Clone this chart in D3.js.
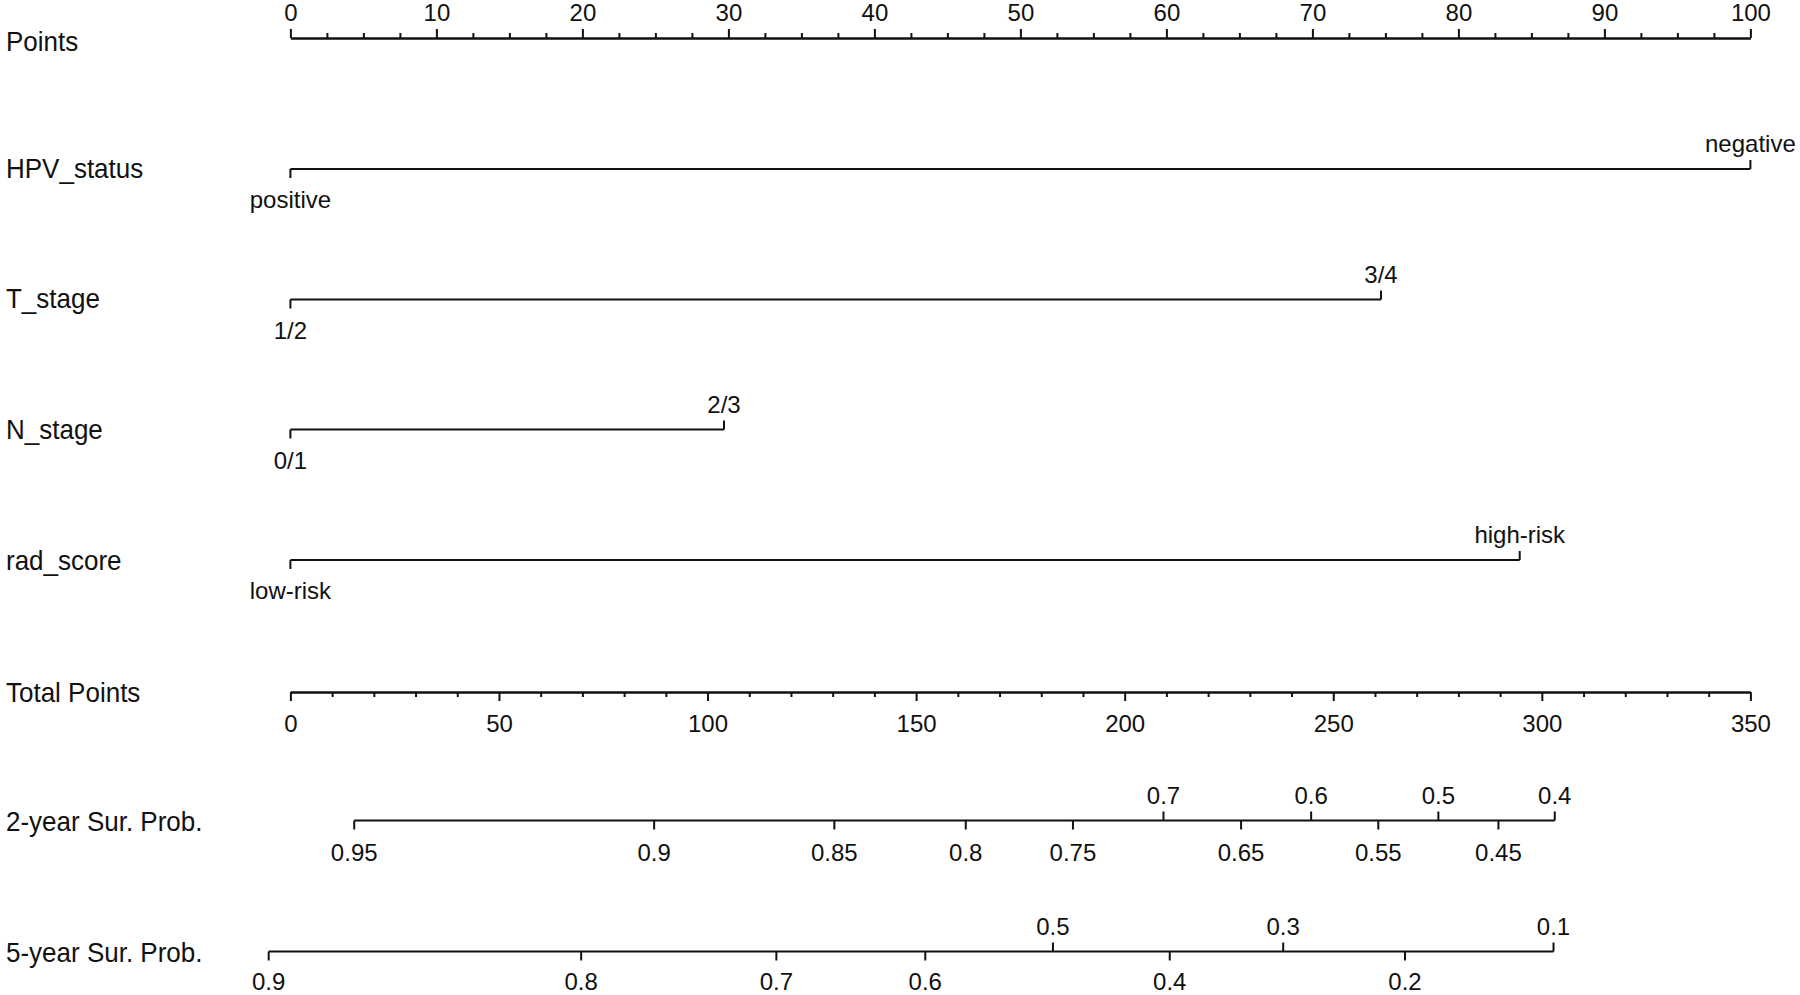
<!DOCTYPE html>
<html>
<head>
<meta charset="utf-8">
<script src="https://cdn.jsdelivr.net/npm/d3@7"></script>
<style>
  html, body { margin: 0; padding: 0; background: #fff; }
  svg text { font-family: "Liberation Sans", Arial, sans-serif; fill: #111; }
</style>
</head>
<body>
<svg id="chart" width="1800" height="995"></svg>
<script>
// ---------- data ----------
const rowLabels = ["Points", "HPV_status", "T_stage", "N_stage", "rad_score",
                   "Total Points", "2-year Sur. Prob.", "5-year Sur. Prob."];

const pointsTicks = [0, 10, 20, 30, 40, 50, 60, 70, 80, 90, 100];
const totalTicks = [0, 50, 100, 150, 200, 250, 300, 350];

const predictors = ["HPV_status", "T_stage", "N_stage", "rad_score"];
const levelLabels = [["positive", "negative"], ["1/2", "3/4"], ["0/1", "2/3"], ["low-risk", "high-risk"]];
const levelPoints = [[0, 100], [0, 74.7], [0, 29.7], [0, 84.2]];

const sur2Labels = ["0.95", "0.9", "0.85", "0.8", "0.75", "0.7", "0.65", "0.6", "0.55", "0.5", "0.45", "0.4"];
const sur2Points = [15.3, 87.2, 130.4, 161.9, 187.6, 209.3, 227.9, 244.7, 260.8, 275.2, 289.6, 303.1];
const sur2Above  = [false, false, false, false, false, true, false, true, false, true, false, true];

const sur5Labels = ["0.9", "0.8", "0.7", "0.6", "0.5", "0.4", "0.3", "0.2", "0.1"];
const sur5Points = [-5.2, 69.7, 116.5, 152.2, 182.8, 210.8, 238.0, 267.2, 302.8];
const sur5Above  = [false, false, false, false, true, false, true, false, true];

// ---------- layout ----------
const svg = d3.select("#chart");
const X0 = 290.4, X1 = 1750.4;
const rowY = [38, 169, 299.5, 429.5, 560, 692, 820.5, 951.5];
const labelOffset = [3, -1, -2, -1, 0, 0, 0, 0];
const ink = "#111";
const lw = 2;
const tickLen = 9;
const labelFont = 26, tickFont = 24;
const labelStretch = 1.08;
const aboveDy = -17;

const xPts = d3.scaleLinear().domain([0, 100]).range([X0, X1]);
const xTot = d3.scaleLinear().domain([0, 350]).range([X0, X1]);

function putText(g, x, y, txt, size, anchor, stretch) {
  return g.append("text")
    .attr("transform", `translate(${x},${y}) scale(1,${stretch || 1})`)
    .attr("text-anchor", anchor || "middle")
    .attr("font-size", size)
    .text(txt);
}

// row labels
const lab = svg.append("g");
rowLabels.forEach((d, i) => {
  putText(lab, 6, rowY[i] + labelOffset[i] + 0.36 * labelFont * labelStretch, d, labelFont, "start", labelStretch);
});

function styleAxis(g) {
  g.selectAll("path.domain").attr("stroke", ink).attr("stroke-width", lw);
  g.selectAll(".tick line").attr("stroke", ink).attr("stroke-width", lw);
}

// Points axis (ticks up)
const minorPts = d3.range(0, 100.001, 2.5).filter(v => !pointsTicks.includes(v));
svg.append("g").attr("transform", `translate(0,${rowY[0]})`)
  .call(d3.axisTop(xPts).tickValues(minorPts).tickSize(5).tickSizeOuter(0).tickFormat(""))
  .call(styleAxis);
const ptsAxis = svg.append("g").attr("transform", `translate(0,${rowY[0]})`)
  .call(d3.axisTop(xPts).tickValues(pointsTicks).tickSize(tickLen).tickSizeOuter(0).tickFormat(""))
  .call(styleAxis);
ptsAxis.selectAll(".tick").each(function(d) {
  putText(d3.select(this), 0, aboveDy, d3.format("d")(d), tickFont);
});

// predictor rows
predictors.forEach((p, i) => {
  const y = rowY[i + 1];
  const g = svg.append("g");
  const [lo, hi] = levelPoints[i];
  g.append("line")
    .attr("x1", xPts(lo)).attr("x2", xPts(hi)).attr("y1", y).attr("y2", y)
    .attr("stroke", ink).attr("stroke-width", lw);
  g.append("line").attr("x1", xPts(lo)).attr("x2", xPts(lo))
    .attr("y1", y).attr("y2", y + tickLen).attr("stroke", ink).attr("stroke-width", lw);
  g.append("line").attr("x1", xPts(hi)).attr("x2", xPts(hi))
    .attr("y1", y).attr("y2", y - tickLen).attr("stroke", ink).attr("stroke-width", lw);
  putText(g, xPts(lo), y + 39, levelLabels[i][0], tickFont);
  putText(g, xPts(hi), y + aboveDy, levelLabels[i][1], tickFont);
});

// Total points axis (ticks down)
const minorTot = d3.range(0, 350.001, 10).filter(v => !totalTicks.includes(v));
svg.append("g").attr("transform", `translate(0,${rowY[5]})`)
  .call(d3.axisBottom(xTot).tickValues(minorTot).tickSize(5).tickSizeOuter(0).tickFormat(""))
  .call(styleAxis);
const totAxis = svg.append("g").attr("transform", `translate(0,${rowY[5]})`)
  .call(d3.axisBottom(xTot).tickValues(totalTicks).tickSize(tickLen).tickSizeOuter(0).tickFormat(""))
  .call(styleAxis);
totAxis.selectAll(".tick").each(function(d) {
  putText(d3.select(this), 0, 39.5, d3.format("d")(d), tickFont);
});

// survival rows
function survRow(labels, pts, above, y, belowDy) {
  const g = svg.append("g");
  g.append("line")
    .attr("x1", xTot(d3.min(pts))).attr("x2", xTot(d3.max(pts)))
    .attr("y1", y).attr("y2", y)
    .attr("stroke", ink).attr("stroke-width", lw);
  labels.forEach((d, i) => {
    const x = xTot(pts[i]);
    g.append("line")
      .attr("x1", x).attr("x2", x)
      .attr("y1", y).attr("y2", y + (above[i] ? -tickLen : tickLen))
      .attr("stroke", ink).attr("stroke-width", lw);
    putText(g, x, y + (above[i] ? aboveDy : belowDy), d, tickFont);
  });
}
survRow(sur2Labels, sur2Points, sur2Above, rowY[6], 40);
survRow(sur5Labels, sur5Points, sur5Above, rowY[7], 38.5);
</script>
</body>
</html>
